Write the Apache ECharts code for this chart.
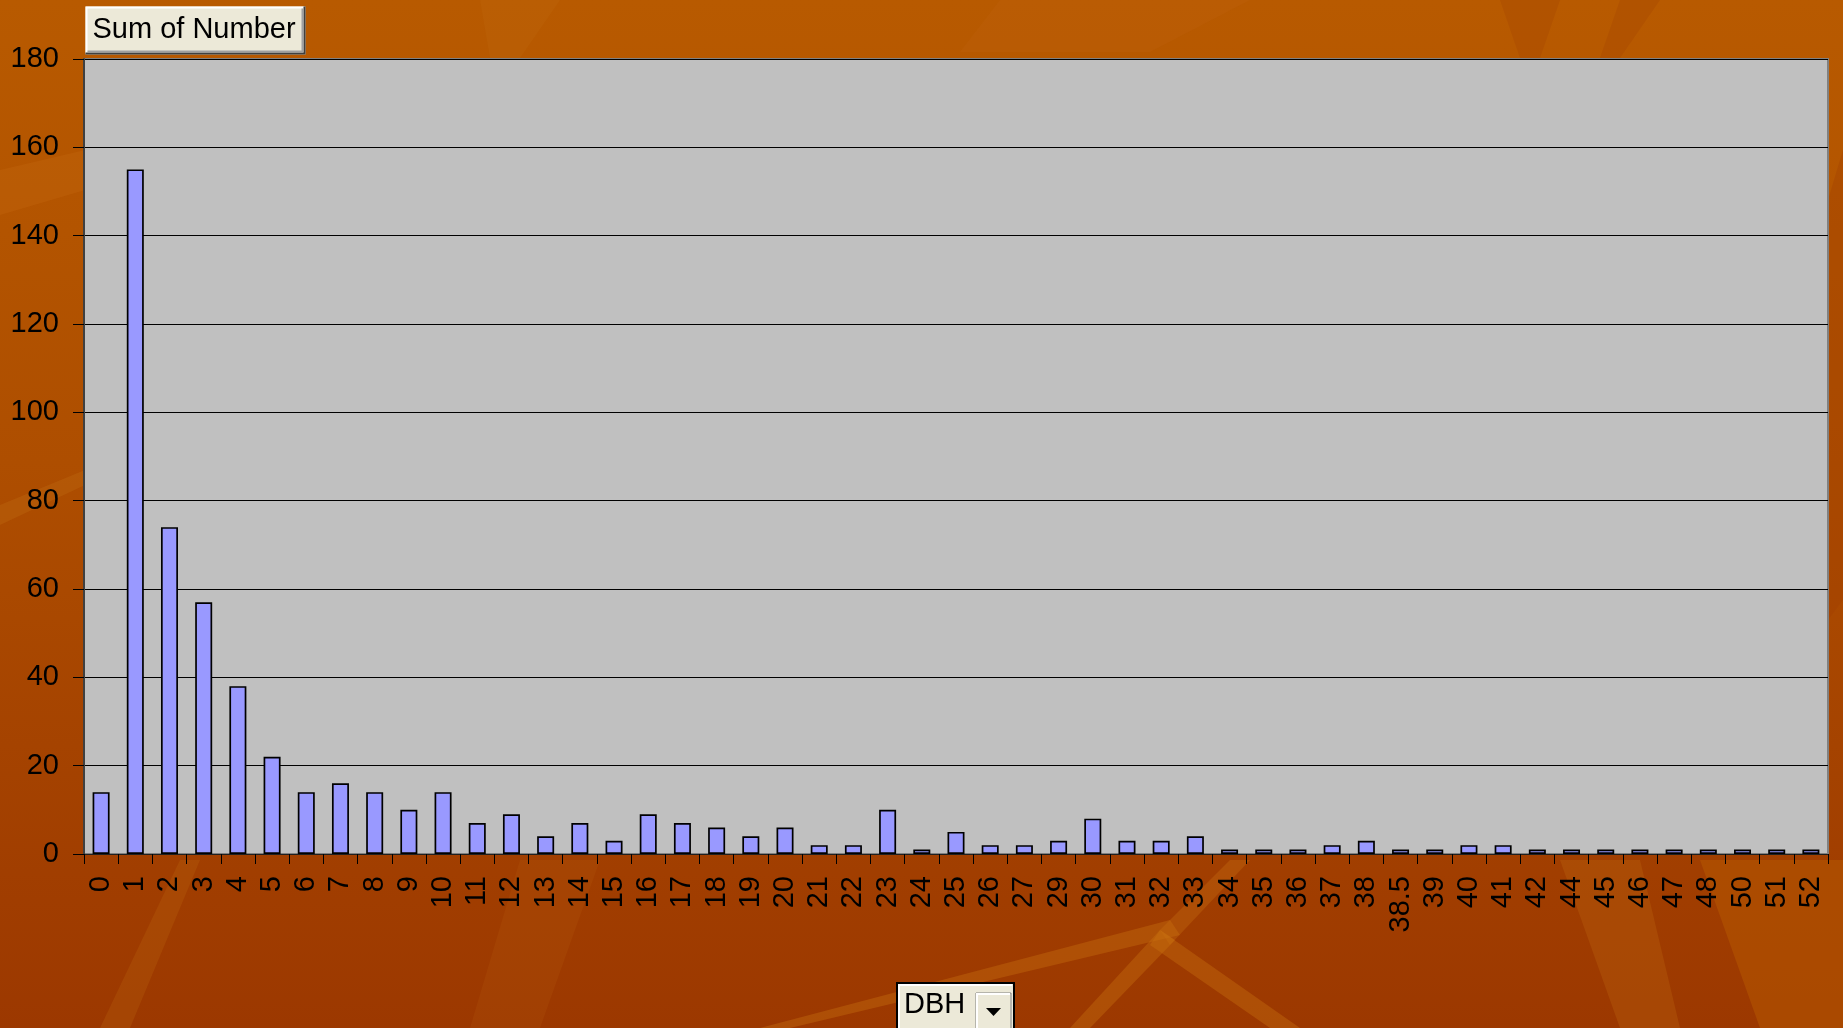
<!DOCTYPE html>
<html>
<head>
<meta charset="utf-8">
<script src="https://cdn.jsdelivr.net/npm/echarts@6/dist/echarts.min.js"></script>
<style>
html,body{margin:0;padding:0;width:1843px;height:1028px;overflow:hidden;}
#chart{width:1843px;height:1028px;}
</style>
</head>
<body>
<div id="chart"></div>
<script>
var categories = ['0','1','2','3','4','5','6','7','8','9','10','11','12','13','14','15','16','17','18','19','20','21','22','23','24','25','26','27','29','30','31','32','33','34','35','36','37','38','38.5','39','40','41','42','44','45','46','47','48','50','51','52'];
var values = [14,155,74,57,38,22,14,16,14,10,14,7,9,4,7,3,9,7,6,4,6,2,2,10,1,5,2,2,3,8,3,3,4,1,1,1,2,3,1,1,2,2,1,1,1,1,1,1,1,1,1];
var yTicks = [0,20,40,60,80,100,120,140,160,180];
var seriesName = 'Sum of Number';
var axisName = 'DBH';

var FONT = '"Liberation Sans", Arial, sans-serif';
var chart = echarts.init(document.getElementById('chart'));

function streak(points, color, op) {
  return { type: 'polygon', z: -10, silent: true, shape: { points: points }, style: { fill: color, opacity: op } };
}

var option = {
  animation: false,
  backgroundColor: {
    type: 'linear', x: 0, y: 0, x2: 0, y2: 1,
    colorStops: [
      { offset: 0, color: '#B85A00' },
      { offset: 0.45, color: '#AE4E00' },
      { offset: 1, color: '#9C3800' }
    ]
  },
  grid: {
    left: 84, right: 15, top: 59, bottom: 174,
    show: true, backgroundColor: '#C0C0C0', borderColor: '#808080', borderWidth: 2
  },
  xAxis: {
    type: 'category',
    data: categories,
    axisLine: { show: true, lineStyle: { color: '#202020', width: 1 } },
    axisTick: { show: true, length: 10, interval: 0, lineStyle: { color: '#000' } },
    axisLabel: { interval: 0, rotate: 90, fontSize: 29, color: '#000', margin: 22, fontFamily: FONT }
  },
  yAxis: {
    type: 'value',
    min: yTicks[0], max: yTicks[yTicks.length - 1], interval: 20,
    axisLine: { show: true, lineStyle: { color: '#404040', width: 2 } },
    axisTick: { show: true, length: 11, lineStyle: { color: '#000' } },
    axisLabel: { fontSize: 29, color: '#000', margin: 25, fontFamily: FONT },
    splitLine: { show: true, lineStyle: { color: '#000', width: 1 } }
  },
  series: [{
    name: seriesName,
    type: 'bar',
    data: values,
    barWidth: 17,
    itemStyle: { color: '#9999FF', borderColor: '#000', borderWidth: 1.7 }
  }],
  graphic: [
    streak([[0,170],[85,150],[85,190],[0,215]], '#C86A10', 0.3),
    streak([[0,505],[85,470],[85,485],[0,525]], '#C87818', 0.25),
    streak([[100,1028],[180,860],[200,860],[130,1028]], '#C06A10', 0.25),
    streak([[520,860],[600,860],[540,1028],[470,1028]], '#B86010', 0.2),
    streak([[760,1028],[1170,920],[1180,935],[790,1028]], '#C87010', 0.4),
    streak([[1070,1028],[1160,930],[1175,940],[1090,1028]], '#C87010', 0.4),
    streak([[1160,930],[1300,1028],[1270,1028],[1150,945]], '#C87010', 0.4),
    streak([[1160,930],[1230,860],[1250,860],[1170,945]], '#C87010', 0.35),
    streak([[1560,860],[1640,860],[1680,1028],[1620,1028]], '#C06A10', 0.3),
    streak([[1700,860],[1843,860],[1843,1028],[1760,1028]], '#B85A00', 0.5),
    streak([[1000,0],[1250,0],[1150,52],[960,52]], '#C06410', 0.25),
    streak([[1500,0],[1560,0],[1540,58],[1520,58]], '#A84800', 0.4),
    streak([[1620,0],[1660,0],[1620,58],[1600,58]], '#A84800', 0.4),
    streak([[480,0],[560,0],[520,58],[490,58]], '#C06A10', 0.25),
    streak([[1828,200],[1843,150],[1843,600],[1828,620]], '#A04000', 0.35),
    // Sum of Number button
    {
      type: 'group', left: 83, top: 4, z: 100,
      children: [
        { type: 'rect', shape: { x: 0, y: 0, width: 220, height: 48 }, style: { fill: '#ECE9D8' } },
        { type: 'polyline', shape: { points: [[1,47],[1,1],[219,1]] }, style: { stroke: '#FFFFFF', lineWidth: 2, fill: null } },
        { type: 'polyline', shape: { points: [[0,47],[219,47],[219,0]] }, style: { stroke: '#404040', lineWidth: 2, fill: null } },
        { type: 'polyline', shape: { points: [[2,45],[217,45],[217,2]] }, style: { stroke: '#A0A0A0', lineWidth: 2, fill: null } },
        { type: 'text', style: { x: 7, y: 23, text: seriesName, fontSize: 29, fontFamily: FONT, fill: '#000', textVerticalAlign: 'middle' } }
      ]
    },
    // DBH button
    {
      type: 'group', left: 896, top: 982, z: 100,
      children: [
        { type: 'rect', shape: { x: 0, y: 0, width: 117, height: 50 }, style: { fill: '#ECE9D8', stroke: '#000', lineWidth: 2 } },
        { type: 'polyline', shape: { points: [[2,48],[2,2],[115,2]] }, style: { stroke: '#FFFFFF', lineWidth: 2, fill: null } },
        { type: 'text', style: { x: 7, y: 22, text: axisName, fontSize: 29, fontFamily: FONT, fill: '#000', textVerticalAlign: 'middle' } },
        { type: 'rect', shape: { x: 79, y: 10, width: 35, height: 42 }, style: { fill: '#ECE9D8', stroke: '#808080', lineWidth: 1 } },
        { type: 'polyline', shape: { points: [[80,50],[80,11],[113,11]] }, style: { stroke: '#FFFFFF', lineWidth: 2, fill: null } },
        { type: 'polygon', shape: { points: [[89,25],[104,25],[96.5,33]] }, style: { fill: '#000' } }
      ]
    }
  ]
};
chart.setOption(option);
</script>
</body>
</html>
